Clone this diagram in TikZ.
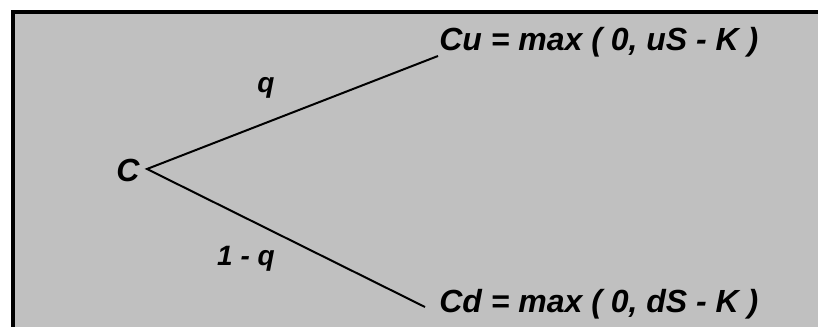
\documentclass[tikz,border=0pt]{standalone}
\usepackage{fontspec}
\setmainfont{Liberation Sans}
\definecolor{panel}{RGB}{192,192,192}
\tikzset{
  big/.style={font=\fontsize{24}{28}\selectfont\bfseries\itshape, inner sep=0pt},
  small/.style={font=\fontsize{21}{25}\selectfont\bfseries\itshape, inner sep=0pt},
  branch/.style={line width=1.5pt},
}
\begin{document}
\begin{tikzpicture}[x=0.75pt,y=-0.75pt]
\useasboundingbox (0,0) rectangle (818,327);
\fill[white] (0,0) rectangle (818,327);
\fill[panel] (13,12) rectangle (818,327);
\draw[line width=3pt] (13,327) -- (13,12) -- (818,12);
\coordinate (v) at (147,169);
\coordinate (ue) at (438,56);
\coordinate (de) at (425,307);
\node[big, anchor=base west] (cu) at (439,51) {Cu = max ( 0, uS - K )};
\node[big, anchor=base west] (cd) at (439,313) {Cd = max ( 0, dS - K )};
\node[big, anchor=base] (c) at (128,182) {C};
\node[small, anchor=base] (q) at (266,93) {q};
\node[small, anchor=base] (q1) at (246,266) {1 - q};
\draw[branch] (ue) -- (v) -- (de);
\end{tikzpicture}
\end{document}
